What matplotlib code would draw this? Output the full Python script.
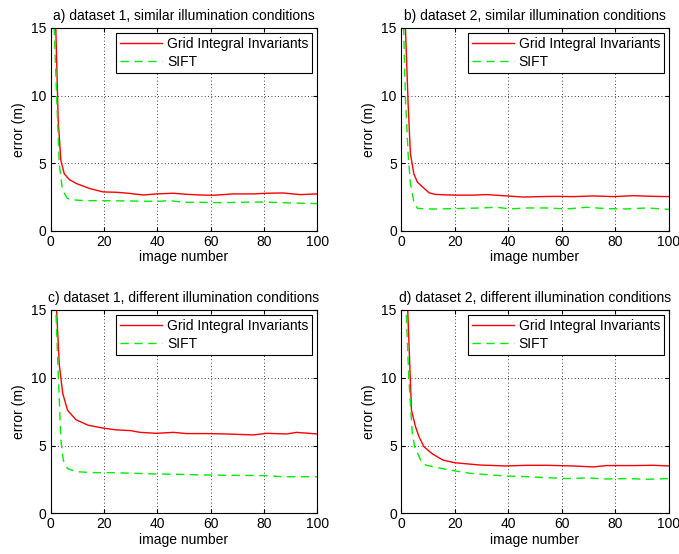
import numpy as np
import matplotlib
matplotlib.use('Agg')
import matplotlib.pyplot as plt

plt.rcParams['font.family'] = ['Liberation Sans', 'DejaVu Sans']
plt.rcParams['font.size'] = 10

# panel titles
titles = ['a) dataset 1, similar illumination conditions',
          'b) dataset 2, similar illumination conditions',
          'c) dataset 1, different illumination conditions',
          'd) dataset 2, different illumination conditions']

# a) Grid Integral Invariants / SIFT
a_gii_x = [1, 1.9, 2.8, 3.8, 5.1, 7, 9.5, 14.6, 19.6, 24.75, 28.5, 34.75, 39.75, 46, 51, 56, 61, 68.5, 76, 81, 87, 93.5, 100]
a_gii_y = [30, 15, 8.2, 5.2, 4.2, 3.78, 3.5, 3.12, 2.87, 2.84, 2.78, 2.64, 2.72, 2.77, 2.69, 2.64, 2.62, 2.72, 2.72, 2.77, 2.79, 2.67, 2.72]
a_sift_x = [1, 1.3, 2.2, 3.2, 4.4, 6.3, 9.5, 13.5, 19.75, 28.5, 39.75, 44.75, 49.75, 56, 63.5, 71, 79.75, 87, 94.75, 100]
a_sift_y = [30, 15, 10, 4.96, 3.0, 2.38, 2.26, 2.22, 2.22, 2.2, 2.17, 2.22, 2.1, 2.1, 2.07, 2.1, 2.12, 2.07, 2.03, 2.0]

# b)
b_gii_x = [1, 1.65, 2.65, 3.5, 4.8, 6.1, 8, 10.5, 13, 20, 27, 32, 39.4, 45.6, 51.9, 58, 64.3, 71.8, 79.2, 86.7, 94, 100]
b_gii_y = [30, 15, 9.4, 5.7, 4.2, 3.6, 3.24, 2.8, 2.68, 2.63, 2.63, 2.67, 2.57, 2.49, 2.52, 2.54, 2.52, 2.57, 2.52, 2.59, 2.54, 2.52]
b_sift_x = [0.5, 1.0, 1.6, 2.65, 3.5, 4.8, 6.1, 11.8, 19.5, 29.5, 35.7, 40.7, 46.9, 54.4, 61.8, 69.3, 76.7, 84.2, 91.7, 100]
b_sift_y = [30, 15, 10, 5.7, 3.5, 2.14, 1.65, 1.6, 1.63, 1.68, 1.73, 1.61, 1.68, 1.68, 1.61, 1.73, 1.63, 1.61, 1.68, 1.58]

# c)
c_gii_x = [1, 2.2, 3.2, 4.5, 6.3, 9.5, 14, 20, 24.8, 29.9, 33.5, 39.75, 46, 51, 58.5, 66, 76, 81, 88.5, 92.25, 100]
c_gii_y = [30, 15, 11.0, 8.85, 7.6, 6.9, 6.5, 6.27, 6.15, 6.1, 5.97, 5.9, 5.97, 5.88, 5.88, 5.85, 5.78, 5.9, 5.85, 5.97, 5.85]
c_sift_x = [1, 1.9, 2.9, 3.8, 4.7, 6.3, 9.5, 15.9, 22.25, 31, 39.75, 47.25, 56, 68.5, 79.75, 87, 100]
c_sift_y = [30, 15, 10, 5.4, 3.93, 3.3, 3.07, 3.0, 3.0, 2.95, 2.9, 2.88, 2.83, 2.8, 2.78, 2.7, 2.7]

# d)
d_gii_x = [1, 2.5, 3.9, 5.4, 6.7, 8.6, 11.8, 15.6, 20, 24.5, 29.5, 39.4, 46.9, 54.4, 64.3, 71.8, 76.7, 86.7, 94, 100]
d_gii_y = [30, 15, 7.6, 6.4, 5.65, 4.9, 4.37, 3.93, 3.73, 3.65, 3.56, 3.49, 3.54, 3.54, 3.49, 3.42, 3.52, 3.52, 3.54, 3.49]
d_sift_x = [1, 1.9, 2.9, 4.2, 5.1, 7.3, 9.2, 13, 19.4, 25.7, 33.2, 39.4, 46.9, 54.4, 61.8, 69.3, 76.7, 84.2, 91.7, 100]
d_sift_y = [30, 15, 10, 5.9, 4.9, 3.93, 3.56, 3.39, 3.15, 2.95, 2.83, 2.75, 2.7, 2.63, 2.56, 2.61, 2.53, 2.56, 2.51, 2.56]

panels = [(a_gii_x, a_gii_y, a_sift_x, a_sift_y),
          (b_gii_x, b_gii_y, b_sift_x, b_sift_y),
          (c_gii_x, c_gii_y, c_sift_x, c_sift_y),
          (d_gii_x, d_gii_y, d_sift_x, d_sift_y)]

xticks = [0, 20, 40, 60, 80, 100]
yticks = [0, 5, 10, 15]

fig = plt.figure(figsize=(6.79, 5.54), dpi=100)
rects = [[0.0747, 0.5836, 0.3926, 0.366],
         [0.5906, 0.5836, 0.3947, 0.366],
         [0.0747, 0.0735, 0.3926, 0.367],
         [0.5906, 0.0735, 0.3947, 0.367]]

for rect, title, (gx, gy, sx, sy) in zip(rects, titles, panels):
    ax = fig.add_axes(rect)
    ax.plot(gx, gy, color='#ff0000', lw=1.0, label='Grid Integral Invariants')
    ax.plot(sx, sy, color='#00ee00', lw=1.0, ls=(0, (6, 4)), label='SIFT')
    ax.set_xlim(0, 100)
    ax.set_ylim(0, 15)
    ax.set_xticks(xticks)
    ax.set_yticks(yticks)
    ax.grid(True, color='k', ls=(0, (1, 3)), lw=0.6)
    ax.tick_params(direction='in', top=True, right=True, length=3, labelsize=10, pad=3)
    for sp in ax.spines.values():
        sp.set_linewidth(0.8)
    ax.set_title(title, fontsize=10, pad=6)
    ax.set_xlabel('image number', labelpad=1)
    ax.set_ylabel('error (m)', labelpad=4)
    leg = ax.legend(loc='upper right', fontsize=10, handlelength=3.0,
                    handletextpad=0.35, labelspacing=0.3, borderpad=0.3,
                    borderaxespad=0.35, fancybox=False, framealpha=1)
    leg.get_frame().set_edgecolor('k')
    leg.get_frame().set_linewidth(0.8)

fig.savefig('out.png', dpi=100)
